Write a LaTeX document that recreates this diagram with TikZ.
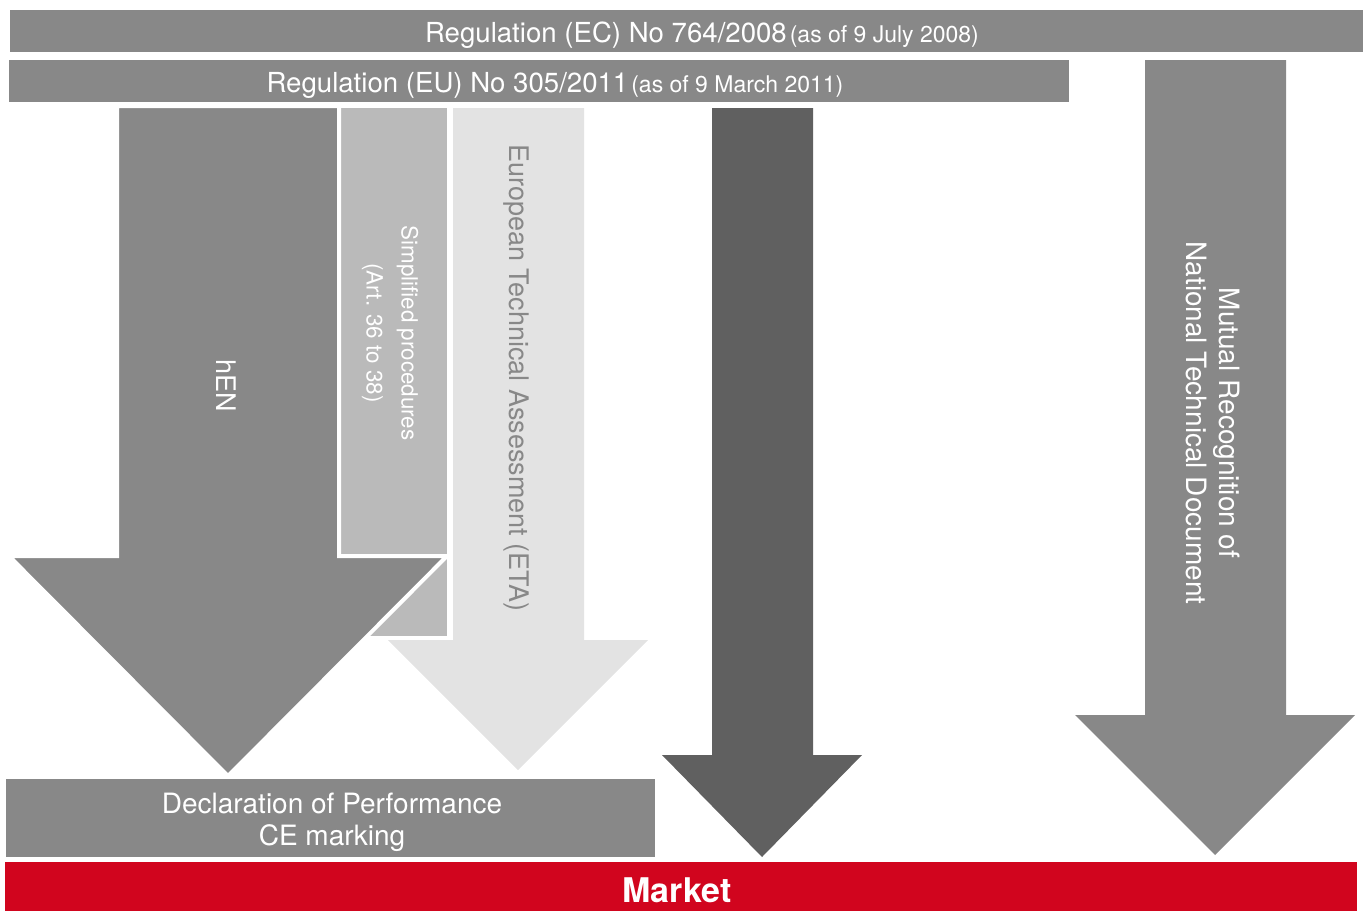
\documentclass[tikz,border=0pt]{standalone}
\usepackage{fontspec}
\setmainfont{TeX Gyre Heros}
\definecolor{midgray}{RGB}{136,136,136}
\definecolor{lightgray}{RGB}{186,186,186}
\definecolor{palegray}{RGB}{227,227,227}
\definecolor{darkgray}{RGB}{96,96,96}
\definecolor{marketred}{RGB}{209,5,30}
\tikzset{
  band/.style={fill=midgray},
  whiteedge/.style={draw=white, line width=4pt, line join=miter},
  txt/.style={inner sep=0pt, text=white},
  bigfont/.style={font=\fontsize{28}{32}\selectfont},
  smallfont/.style={font=\fontsize{22.4}{35}\selectfont},
}
\begin{document}
\begin{tikzpicture}[x=1pt,y=-1pt]
\useasboundingbox (0,0) rectangle (1363,911);
% top bars
\fill[band] (10,10) rectangle (1363,52);
\node[txt, anchor=base] (reg1) at (702,42) {{\fontsize{27.6}{30}\selectfont Regulation (EC) No 764/2008}\hspace{3pt}{\fontsize{23}{24}\selectfont (as of 9 July 2008)}};
\fill[band] (9,60) rectangle (1069,102);
\node[txt, anchor=base] (reg2) at (555,92) {{\fontsize{27.6}{30}\selectfont Regulation (EU) No 305/2011}\hspace{3pt}{\fontsize{23}{24}\selectfont (as of 9 March 2011)}};
% ETA arrow
\fill[palegray] (453,108) -- (584,108) -- (584,640) -- (648,640) -- (518,770) -- (388,640) -- (453,640) -- cycle;
\node[txt, text=midgray, font=\fontsize{27}{32}\selectfont, rotate=-90] (eta) at (516,378) {European Technical Assessment (ETA)};
% simplified procedures box
\filldraw[fill=lightgray, whiteedge] (338,106) rectangle (449,638);
% hEN arrow
\filldraw[fill=midgray, whiteedge] (117,106) -- (339,106) -- (339,556) -- (447,556) -- (228,776) -- (9,556) -- (117,556) -- cycle;
\node[txt, font=\fontsize{27}{32}\selectfont, rotate=-90] (hen) at (226,386) {hEN};
\node[txt, smallfont, rotate=-90, align=center] (simp) at (390,333) {Simplified procedures\\(Art. 36 to 38)};
% dark arrow
\fill[darkgray] (712,108) -- (813,108) -- (813,755) -- (862,755) -- (762,857) -- (662,755) -- (712,755) -- cycle;
% right arrow
\fill[midgray] (1145,60) -- (1286,60) -- (1286,715) -- (1355,715) -- (1215,855) -- (1075,715) -- (1145,715) -- cycle;
\node[txt, font=\fontsize{28}{33}\selectfont, rotate=-90, align=center] (mutual) at (1213,423) {Mutual Recognition of\\National Technical Document};
% declaration
\fill[band] (6,779) rectangle (655,857);
\node[txt, font=\fontsize{28}{32}\selectfont, align=center] (dop) at (332,822) {Declaration of Performance\\CE marking};
% market
\fill[marketred] (5,862) rectangle (1357,911);
\node[txt, anchor=base, font=\bfseries\fontsize{34}{36}\selectfont] (market) at (677,902) {Market};
\end{tikzpicture}
\end{document}
